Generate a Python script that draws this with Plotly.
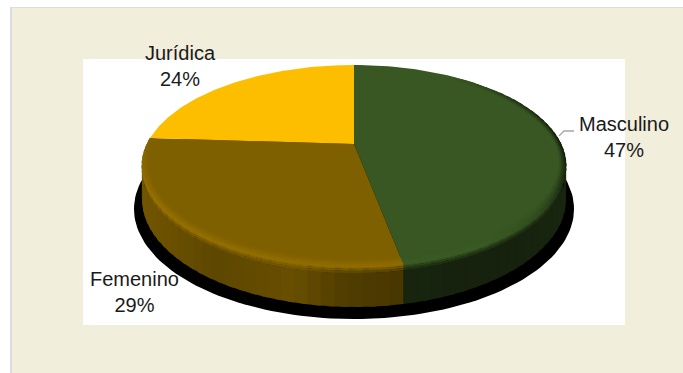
import numpy as np
import plotly.graph_objects as go

# Pie data
categories = ["Masculino", "Femenino", "Jurídica"]
shares = [47, 29, 24]
top_colors = ["#385723", "#7F6000", "#FDBE00"]
label_centers = [(624, 137), (134, 292), (180, 66)]

# Wall brightness along the horizontal pixel position, one table per slice
wall_x = [[393, 440, 520, 566], [142, 210, 290, 340, 393], [142, 160]]
wall_f = [[0.44, 0.40, 0.40, 0.44], [0.90, 0.74, 0.82, 0.64, 0.58], [0.8, 0.8]]
# Brightness of the rim bevel by pie angle, one table per slice
rim_a = [[35, 60, 90, 110, 130, 150, 180], [160, 240, 262, 280], [270, 360]]
rim_f = [[1.0, 0.55, 0.28, 0.42, 0.85, 1.06, 1.06], [1.14, 1.2, 1.1, 1.0], [1.0, 1.0]]

# Projection of the tilted disc
CX, CY = 354.0, 144.0
RX, RY, PERSP = 207.0, 96.2, 0.218
DEPTH = 40.0
SHADOW = dict(cx=354, cy=209, rx=220, ry=110)


def project(angle_deg, r=1.0):
    t = np.radians(angle_deg)
    u, v = r * np.sin(t), r * np.cos(t)
    w = 1.0 / (1.0 + PERSP * v)
    return CX + RX * u * w, CY - RY * v * w, w


def shade(color, f):
    rgb = np.array([int(color[i:i + 2], 16) for i in (1, 3, 5)], float)
    rgb = np.clip(rgb * f, 0, 255).astype(int)
    return "rgb(%d,%d,%d)" % tuple(rgb)


def patch(xs, ys, color):
    return go.Scatter(x=list(xs) + [xs[0]], y=list(ys) + [ys[0]], mode="lines",
                      fill="toself", fillcolor=color,
                      line=dict(color=color, width=0),
                      hoverinfo="skip", showlegend=False)


fig = go.Figure()

# Drop shadow under the disc
a = np.radians(np.arange(0, 361, 2))
fig.add_trace(patch(SHADOW["cx"] + SHADOW["rx"] * np.cos(a),
                    SHADOW["cy"] + SHADOW["ry"] * np.sin(a), "#000000"))

edges = np.cumsum([0] + shares) / sum(shares) * 360.0
STEP = 3.0
OVERLAP = 1.5

# Side wall: vertical strips per slice, with a soft blend under the rim.
# Each strip runs a little past its end so the next one covers the join.
BANDS = [(0.0, 0.05, 0.15), (0.05, 0.10, 0.45), (0.10, 0.16, 0.75), (0.16, 1.0, 1.0)]
for i, base in enumerate(top_colors):
    lo, hi = max(edges[i], 85.0), min(edges[i + 1], 275.0)
    if hi <= lo:
        continue
    steps = np.arange(lo, hi, STEP).tolist() + [hi]
    for s, e in zip(steps[:-1], steps[1:]):
        e2 = min(e + OVERLAP, hi)
        xs, yps, ws = project(s)
        xe, ype, we = project(e2)
        fw = np.interp((xs + xe) / 2, wall_x[i], wall_f[i])
        fr = np.interp((s + e) / 2, rim_a[i], rim_f[i])
        ds, de = DEPTH * ws / 1.28, DEPTH * we / 1.28
        for v0, v1, mix in BANDS:
            f = fr + (fw - fr) * mix
            fig.add_trace(patch([xs, xe, xe, xs],
                                [yps + v0 * ds - 0.3, ype + v0 * de - 0.3,
                                 ype + v1 * de, yps + v1 * ds],
                                shade(base, f)))

# Top faces, each wedge from the pivot to its arc
for i, base in enumerate(top_colors):
    ang = np.linspace(edges[i], edges[i + 1], 90)
    x, y, _ = project(ang)
    fig.add_trace(patch([CX] + x.tolist(), [CY] + y.tolist(), base))

# Bevel ring along the rim of the top faces
RINGS = [0.0, 0.3, 0.6, 0.85, 1.0]
for i, base in enumerate(top_colors):
    lo, hi = max(edges[i], rim_a[i][0]), min(edges[i + 1], rim_a[i][-1])
    if i == 2:
        continue
    steps = np.arange(lo, hi, STEP).tolist() + [hi]
    for s, e in zip(steps[:-1], steps[1:]):
        e2 = min(e + OVERLAP, hi)
        mid = (s + e) / 2
        width = 0.025 + 0.025 * abs(np.cos(np.radians(mid)))
        fr = np.interp(mid, rim_a[i], rim_f[i])
        for u0, u1 in zip(RINGS[:-1], RINGS[1:]):
            r0, r1 = 1 - width * (1 - u0), 1 - width * (1 - u1)
            x0s, y0s, _ = project(s, r0)
            x0e, y0e, _ = project(e2, r0)
            x1s, y1s, _ = project(s, r1 + 0.002)
            x1e, y1e, _ = project(e2, r1 + 0.002)
            f = 1 + (fr - 1) * (u0 + u1) / 2
            fig.add_trace(patch([x0s, x0e, x1e, x1s], [y0s, y0e, y1e, y1s], shade(base, f)))

# Leader line to the Masculino label
fig.add_trace(go.Scatter(x=[559, 564, 574], y=[136, 131, 131], mode="lines",
                         line=dict(color="#A6A6A6", width=1.3),
                         hoverinfo="skip", showlegend=False))

# Slice labels
for name, val, (lx, ly) in zip(categories, shares, label_centers):
    fig.add_annotation(x=lx, y=ly, text=f"{name}<br>{val}%", showarrow=False,
                       xanchor="center", yanchor="middle",
                       font=dict(family="Liberation Sans", size=20, color="#1A1A1A"))

fig.update_layout(
    width=683, height=373,
    margin=dict(l=0, r=0, t=0, b=0),
    paper_bgcolor="#FFFFFF", plot_bgcolor="rgba(0,0,0,0)",
    xaxis=dict(range=[0, 683], visible=False, fixedrange=True),
    yaxis=dict(range=[373, 0], visible=False, fixedrange=True),
    showlegend=False,
    shapes=[
        dict(type="rect", xref="x", yref="y", x0=10, x1=683, y0=7, y1=373,
             fillcolor="#DDDDDA", line_width=0, layer="below"),
        dict(type="rect", xref="x", yref="y", x0=12, x1=683, y0=8, y1=373,
             fillcolor="#F1EEDB", line_width=0, layer="below"),
        dict(type="rect", xref="x", yref="y", x0=83, x1=625, y0=59, y1=325,
             fillcolor="#FFFFFF", line_width=0, layer="below"),
    ],
)

fig.write_html("out.html", config=dict(displayModeBar=False))
